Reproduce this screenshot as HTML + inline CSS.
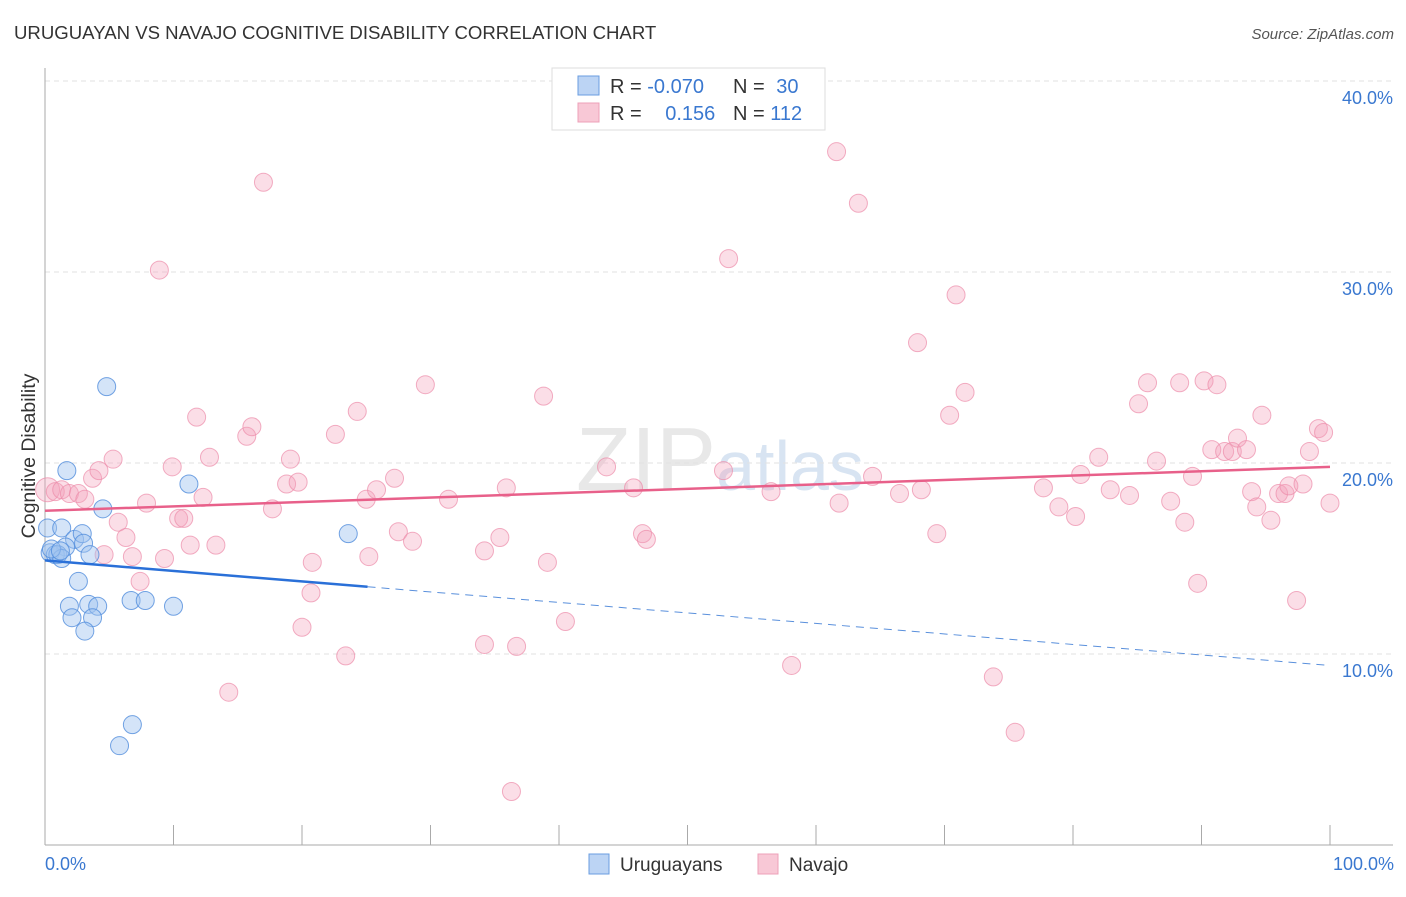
<!DOCTYPE html>
<html><head><meta charset="utf-8"><style>
body{margin:0;background:#fff;font-family:"Liberation Sans",sans-serif}
svg text{font-family:"Liberation Sans",sans-serif}
</style></head><body>
<svg id="chart" width="1406" height="892">
<text x="14" y="39" font-size="18.6" fill="#333">URUGUAYAN VS NAVAJO COGNITIVE DISABILITY CORRELATION CHART</text>
<text x="1394" y="39" font-size="15" fill="#555" text-anchor="end" font-style="italic">Source: ZipAtlas.com</text>
<text x="720" y="490" font-size="90" fill="#e8e8e8" text-anchor="middle" font-family="Liberation Serif">ZIP<tspan font-family="Liberation Sans" font-size="70" fill="#d8e4f2">atlas</tspan></text>
<g id="grid"></g><g id="marks"></g>
<text transform="translate(35,456) rotate(-90)" font-size="19.5" fill="#333" text-anchor="middle">Cognitive Disability</text>
<text x="45" y="870" font-size="18" fill="#3a78d0">0.0%</text>
<text x="1394" y="870" font-size="18" fill="#3a78d0" text-anchor="end">100.0%</text>
<g>
<rect x="552" y="68" width="273" height="62" fill="#fff" stroke="#ddd"/>
<rect x="578" y="76" width="21" height="19" fill="#bcd4f4" stroke="#6a9de0"/>
<rect x="578" y="103" width="21" height="19" fill="#f8c8d6" stroke="#eea0b8"/>
<text x="610" y="93" font-size="20" fill="#333">R = <tspan fill="#3a78d0">-0.070</tspan></text>
<text x="733" y="93" font-size="20" fill="#333">N = <tspan fill="#3a78d0" dx="6">30</tspan></text>
<text x="610" y="120" font-size="20" fill="#333">R = <tspan fill="#3a78d0" dx="18">0.156</tspan></text>
<text x="733" y="120" font-size="20" fill="#333">N = <tspan fill="#3a78d0">112</tspan></text>
</g>
<g>
<rect x="589" y="854" width="20" height="20" fill="#bcd4f4" stroke="#6a9de0"/>
<text x="620" y="871" font-size="19" fill="#333">Uruguayans</text>
<rect x="758" y="854" width="20" height="20" fill="#f8c8d6" stroke="#eea0b8"/>
<text x="789" y="871" font-size="19" fill="#333">Navajo</text>
</g>
</svg>
<script>
const yTicks=[10,20,30,40];
const xTickCount=10;
const blueX=[1.7,4.5,4.8,0.2,1.3,2.3,2.9,3.0,1.6,0.4,0.8,1.0,1.3,3.5,2.6,1.9,3.4,4.1,2.1,3.7,3.1,6.7,7.8,10.0,11.2,23.6,6.8,5.8,0.5,1.2];
const blueY=[19.6,17.6,24.0,16.6,16.6,16.0,16.3,15.8,15.6,15.3,15.2,15.2,15.0,15.2,13.8,12.5,12.6,12.5,11.9,11.9,11.2,12.8,12.8,12.5,18.9,16.3,6.3,5.2,15.5,15.4];
const pinkX=[0.2,0.8,1.3,1.9,2.6,3.1,3.7,4.2,5.3,5.7,6.3,6.8,4.6,7.4,7.9,8.9,9.3,9.9,10.4,10.8,11.3,11.8,12.3,12.8,13.3,14.3,15.7,16.1,17.0,17.7,19.1,18.8,19.7,20.0,20.7,20.8,22.6,23.4,24.3,25.0,25.2,25.8,27.5,27.2,28.6,29.6,31.4,34.2,34.2,35.4,35.9,36.3,36.7,38.8,39.1,40.5,43.7,45.8,46.5,46.8,52.8,53.2,56.5,58.1,61.6,61.8,63.3,64.4,66.5,67.9,68.2,69.4,70.4,70.9,71.6,73.8,75.5,77.7,78.9,80.2,80.6,82.0,82.9,84.4,85.1,85.8,86.5,87.6,88.3,88.7,89.3,89.7,90.2,90.8,91.2,91.8,92.4,92.8,93.5,93.9,94.3,94.7,95.4,96.0,96.5,96.8,97.4,97.9,98.4,99.1,99.5,100];
const pinkY=[18.6,18.5,18.6,18.4,18.4,18.1,19.2,19.6,20.2,16.9,16.1,15.1,15.2,13.8,17.9,30.1,15.0,19.8,17.1,17.1,15.7,22.4,18.2,20.3,15.7,8.0,21.4,21.9,34.7,17.6,20.2,18.9,19.0,11.4,13.2,14.8,21.5,9.9,22.7,18.1,15.1,18.6,16.4,19.2,15.9,24.1,18.1,15.4,10.5,16.1,18.7,2.8,10.4,23.5,14.8,11.7,19.8,18.7,16.3,16.0,19.6,30.7,18.5,9.4,36.3,17.9,33.6,19.3,18.4,26.3,18.6,16.3,22.5,28.8,23.7,8.8,5.9,18.7,17.7,17.2,19.4,20.3,18.6,18.3,23.1,24.2,20.1,18.0,24.2,16.9,19.3,13.7,24.3,20.7,24.1,20.6,20.6,21.3,20.7,18.5,17.7,22.5,17.0,18.4,18.4,18.8,12.8,18.9,20.6,21.8,21.6,17.9];
const blueTrend=[14.9,9.4]; // value at x=0 and x=100
const pinkTrend=[17.5,19.8];
const blueSolidEnd=25.1;
const X0=45,X1=1330,Y0=845,PX_PER=19.1;
const sx=v=>X0+(X1-X0)*v/100, sy=v=>Y0-v*PX_PER;
const NS="http://www.w3.org/2000/svg";
function mk(t,a,p){const e=document.createElementNS(NS,t);for(const k in a)e.setAttribute(k,a[k]);p.appendChild(e);return e;}
const g=document.getElementById('grid'), m=document.getElementById('marks');
yTicks.forEach(t=>{
 const l=mk('line',{x1:45,x2:1393,y1:sy(t),y2:sy(t),stroke:'#e2e2e2','stroke-dasharray':'5,4'},g);
 
 
 const tx=mk('text',{x:1393,y:sy(t)+23,'font-size':18,fill:'#3a78d0','text-anchor':'end'},g);
 tx.textContent=t.toFixed(1)+'%';
 
 
});
const ax=mk('line',{x1:45,x2:45,y1:68,y2:845,stroke:'#aaa'},g);


const bx=mk('line',{x1:45,x2:1393,y1:845,y2:845,stroke:'#aaa'},g);


for(let i=0;i<=xTickCount;i++){
 const t=mk('line',{x1:sx(i*10),x2:sx(i*10),y1:825,y2:845,stroke:'#aaa'},g);
 
 
}
pinkX.forEach((x,i)=>{
 const c=mk('circle',{cx:sx(x),cy:sy(pinkY[i]),r:i==0?12:9,fill:'rgba(244,160,185,0.35)',stroke:'rgba(236,140,170,0.7)'},m);
 
 
});
blueX.forEach((x,i)=>{
 const c=mk('circle',{cx:sx(x),cy:sy(blueY[i]),r:9,fill:'rgba(160,196,240,0.45)',stroke:'rgba(80,140,220,0.8)'},m);
 
 
});
const bAt=x=>blueTrend[0]+(blueTrend[1]-blueTrend[0])*x/100;
const pt=mk('line',{x1:sx(0),y1:sy(pinkTrend[0]),x2:sx(100),y2:sy(pinkTrend[1]),stroke:'#e8608a','stroke-width':2.5},m);


const bt=mk('line',{x1:sx(0),y1:sy(bAt(0)),x2:sx(blueSolidEnd),y2:sy(bAt(blueSolidEnd)),stroke:'#2a70d8','stroke-width':2.5},m);


const bd=mk('line',{x1:sx(blueSolidEnd),y1:sy(bAt(blueSolidEnd)),x2:sx(100),y2:sy(bAt(100)),stroke:'#5a90dc','stroke-width':1,'stroke-dasharray':'8,6'},m);


</script>
</body></html>
